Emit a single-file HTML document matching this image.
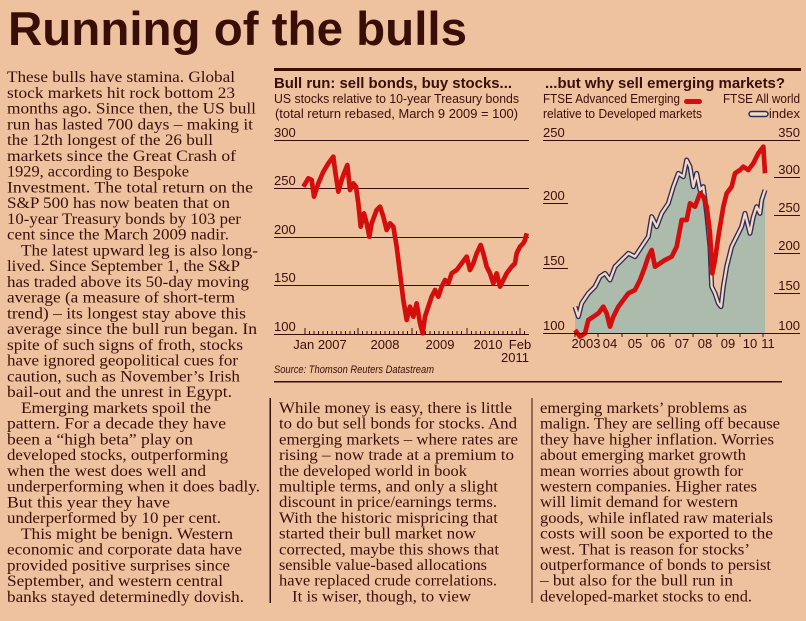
<!DOCTYPE html>
<html><head><meta charset="utf-8"><style>
html,body{margin:0;padding:0;background:#eec29e;}
svg{display:block}
.b{font-family:"Liberation Serif",serif;font-size:15.5px;fill:#3a0e08}
.s{font-family:"Liberation Sans",sans-serif;fill:#3a0e08}
</style></head><body>
<svg width="806" height="621" viewBox="0 0 806 621" xmlns="http://www.w3.org/2000/svg">
<rect width="806" height="621" fill="#eec29e"/>
<text class="s" x="8" y="45" font-size="47" font-weight="bold" textLength="459" lengthAdjust="spacingAndGlyphs">Running of the bulls</text>

<g class="b">
<text x="7" y="82" textLength="228" lengthAdjust="spacingAndGlyphs">These bulls have stamina. Global</text>
<text x="7" y="97.75" textLength="228" lengthAdjust="spacingAndGlyphs">stock markets hit rock bottom 23</text>
<text x="7" y="113.5" textLength="249" lengthAdjust="spacingAndGlyphs">months ago. Since then, the US bull</text>
<text x="7" y="129.25" textLength="246" lengthAdjust="spacingAndGlyphs">run has lasted 700 days – making it</text>
<text x="7" y="145" textLength="206" lengthAdjust="spacingAndGlyphs">the 12th longest of the 26 bull</text>
<text x="7" y="160.75" textLength="229" lengthAdjust="spacingAndGlyphs">markets since the Great Crash of</text>
<text x="7" y="176.5" textLength="182" lengthAdjust="spacingAndGlyphs">1929, according to Bespoke</text>
<text x="7" y="192.25" textLength="246" lengthAdjust="spacingAndGlyphs">Investment. The total return on the</text>
<text x="7" y="208" textLength="223" lengthAdjust="spacingAndGlyphs">S&amp;P 500 has now beaten that on</text>
<text x="7" y="223.75" textLength="234" lengthAdjust="spacingAndGlyphs">10-year Treasury bonds by 103 per</text>
<text x="7" y="239.5" textLength="222" lengthAdjust="spacingAndGlyphs">cent since the March 2009 nadir.</text>
<text x="21" y="255.25" textLength="237" lengthAdjust="spacingAndGlyphs">The latest upward leg is also long-</text>
<text x="7" y="271" textLength="233" lengthAdjust="spacingAndGlyphs">lived. Since September 1, the S&amp;P</text>
<text x="7" y="286.75" textLength="242" lengthAdjust="spacingAndGlyphs">has traded above its 50-day moving</text>
<text x="7" y="302.5" textLength="228" lengthAdjust="spacingAndGlyphs">average (a measure of short-term</text>
<text x="7" y="318.25" textLength="239" lengthAdjust="spacingAndGlyphs">trend) – its longest stay above this</text>
<text x="7" y="334" textLength="250" lengthAdjust="spacingAndGlyphs">average since the bull run began. In</text>
<text x="7" y="349.75" textLength="236" lengthAdjust="spacingAndGlyphs">spite of such signs of froth, stocks</text>
<text x="7" y="365.5" textLength="231" lengthAdjust="spacingAndGlyphs">have ignored geopolitical cues for</text>
<text x="7" y="381.25" textLength="233" lengthAdjust="spacingAndGlyphs">caution, such as November’s Irish</text>
<text x="7" y="397" textLength="225" lengthAdjust="spacingAndGlyphs">bail-out and the unrest in Egypt.</text>
<text x="21" y="412.75" textLength="190" lengthAdjust="spacingAndGlyphs">Emerging markets spoil the</text>
<text x="7" y="428.5" textLength="219" lengthAdjust="spacingAndGlyphs">pattern. For a decade they have</text>
<text x="7" y="444.25" textLength="186" lengthAdjust="spacingAndGlyphs">been a “high beta” play on</text>
<text x="7" y="460" textLength="221" lengthAdjust="spacingAndGlyphs">developed stocks, outperforming</text>
<text x="7" y="475.75" textLength="199" lengthAdjust="spacingAndGlyphs">when the west does well and</text>
<text x="7" y="491.5" textLength="253" lengthAdjust="spacingAndGlyphs">underperforming when it does badly.</text>
<text x="7" y="507.25" textLength="163" lengthAdjust="spacingAndGlyphs">But this year they have</text>
<text x="7" y="523" textLength="214" lengthAdjust="spacingAndGlyphs">underperformed by 10 per cent.</text>
<text x="21" y="538.75" textLength="212" lengthAdjust="spacingAndGlyphs">This might be benign. Western</text>
<text x="7" y="554.5" textLength="235" lengthAdjust="spacingAndGlyphs">economic and corporate data have</text>
<text x="7" y="570.25" textLength="223" lengthAdjust="spacingAndGlyphs">provided positive surprises since</text>
<text x="7" y="586" textLength="216" lengthAdjust="spacingAndGlyphs">September, and western central</text>
<text x="7" y="601.75" textLength="237" lengthAdjust="spacingAndGlyphs">banks stayed determinedly dovish.</text>
</g>

<!-- bottom columns -->
<rect x="274" y="381" width="508" height="1.5" fill="#3a0e08"/>
<rect x="269.5" y="398" width="1.5" height="205" fill="#3a0e08"/>
<rect x="531.5" y="398" width="1" height="205" fill="#3a0e08"/>
<g class="b">
<text x="279" y="413" textLength="233" lengthAdjust="spacingAndGlyphs">While money is easy, there is little</text>
<text x="279" y="428.7" textLength="238" lengthAdjust="spacingAndGlyphs">to do but sell bonds for stocks. And</text>
<text x="279" y="444.4" textLength="239" lengthAdjust="spacingAndGlyphs">emerging markets – where rates are</text>
<text x="279" y="460.1" textLength="235" lengthAdjust="spacingAndGlyphs">rising – now trade at a premium to</text>
<text x="279" y="475.8" textLength="188" lengthAdjust="spacingAndGlyphs">the developed world in book</text>
<text x="279" y="491.5" textLength="219" lengthAdjust="spacingAndGlyphs">multiple terms, and only a slight</text>
<text x="279" y="507.2" textLength="218" lengthAdjust="spacingAndGlyphs">discount in price/earnings terms.</text>
<text x="279" y="522.9" textLength="219" lengthAdjust="spacingAndGlyphs">With the historic mispricing that</text>
<text x="279" y="538.6" textLength="197" lengthAdjust="spacingAndGlyphs">started their bull market now</text>
<text x="279" y="554.3" textLength="220" lengthAdjust="spacingAndGlyphs">corrected, maybe this shows that</text>
<text x="279" y="570" textLength="208" lengthAdjust="spacingAndGlyphs">sensible value-based allocations</text>
<text x="279" y="585.7" textLength="218" lengthAdjust="spacingAndGlyphs">have replaced crude correlations.</text>
<text x="292" y="601.4" textLength="179" lengthAdjust="spacingAndGlyphs">It is wiser, though, to view</text>

<text x="540" y="413" textLength="207" lengthAdjust="spacingAndGlyphs">emerging markets’ problems as</text>
<text x="540" y="428.7" textLength="240" lengthAdjust="spacingAndGlyphs">malign. They are selling off because</text>
<text x="540" y="444.4" textLength="234" lengthAdjust="spacingAndGlyphs">they have higher inflation. Worries</text>
<text x="540" y="460.1" textLength="206" lengthAdjust="spacingAndGlyphs">about emerging market growth</text>
<text x="540" y="475.8" textLength="203" lengthAdjust="spacingAndGlyphs">mean worries about growth for</text>
<text x="540" y="491.5" textLength="217" lengthAdjust="spacingAndGlyphs">western companies. Higher rates</text>
<text x="540" y="507.2" textLength="198" lengthAdjust="spacingAndGlyphs">will limit demand for western</text>
<text x="540" y="522.9" textLength="233" lengthAdjust="spacingAndGlyphs">goods, while inflated raw materials</text>
<text x="540" y="538.6" textLength="233" lengthAdjust="spacingAndGlyphs">costs will soon be exported to the</text>
<text x="540" y="554.3" textLength="210" lengthAdjust="spacingAndGlyphs">west. That is reason for stocks’</text>
<text x="540" y="570" textLength="231" lengthAdjust="spacingAndGlyphs">outperformance of bonds to persist</text>
<text x="540" y="585.7" textLength="193" lengthAdjust="spacingAndGlyphs">– but also for the bull run in</text>
<text x="540" y="601.4" textLength="212" lengthAdjust="spacingAndGlyphs">developed-market stocks to end.</text>
</g>

<!-- top bar -->
<rect x="274" y="68" width="527" height="3" fill="#3a0e08"/>

<!-- LEFT CHART -->
<g class="s">
<text x="274" y="88" font-size="15" font-weight="bold" textLength="238" lengthAdjust="spacingAndGlyphs">Bull run: sell bonds, buy stocks...</text>
<text x="274" y="103" font-size="13" textLength="245" lengthAdjust="spacingAndGlyphs">US stocks relative to 10-year Treasury bonds</text>
<text x="275" y="118" font-size="13" textLength="243" lengthAdjust="spacingAndGlyphs">(total return rebased, March 9 2009 = 100)</text>
<g font-size="13">
<text x="274" y="137">300</text><text x="274" y="185">250</text><text x="274" y="234">200</text><text x="274" y="282">150</text><text x="274" y="331">100</text>
<text x="320" y="349" text-anchor="middle">Jan 2007</text>
<text x="385" y="349" text-anchor="middle">2008</text>
<text x="440" y="349" text-anchor="middle">2009</text>
<text x="488" y="349" text-anchor="middle">2010</text>
<text x="520" y="349" text-anchor="middle">Feb</text>
<text x="529" y="362" text-anchor="end">2011</text>
</g>
<text x="274" y="373" font-size="11" font-style="italic" textLength="160" lengthAdjust="spacingAndGlyphs">Source: Thomson Reuters Datastream</text>
</g>
<g stroke="#3a0e08" stroke-width="1">
<line x1="274" y1="140.5" x2="529" y2="140.5"/>
<line x1="274" y1="188.5" x2="529" y2="188.5"/>
<line x1="274" y1="237.5" x2="529" y2="237.5"/>
<line x1="274" y1="285.5" x2="529" y2="285.5"/>
<line x1="274" y1="334.5" x2="529" y2="334.5"/>
</g>
<path stroke="#3a0e08" stroke-width="1" d="M305 334v-6M309.5 334v-3M314 334v-3M318.5 334v-3M323 334v-3M327.5 334v-3M332 334v-3M336.5 334v-3M341 334v-3M345.5 334v-3M350 334v-3M354.5 334v-3M358 334v-6M362.5 334v-3M367 334v-3M371.5 334v-3M376 334v-3M380.5 334v-3M385 334v-3M389.5 334v-3M394 334v-3M398.5 334v-3M403 334v-3M407.5 334v-3M412 334v-6M416.5 334v-3M421 334v-3M425.5 334v-3M430 334v-3M434.5 334v-3M439 334v-3M443.5 334v-3M448 334v-3M452.5 334v-3M457 334v-3M461.5 334v-3M467 334v-6M471.5 334v-3M476 334v-3M480.5 334v-3M485 334v-3M489.5 334v-3M494 334v-3M498.5 334v-3M503 334v-3M507.5 334v-3M512 334v-3M516.5 334v-3M520 334v-6M524.5 334v-3"/>
<g transform="translate(270,60) scale(0.33333)">
<polyline fill="none" stroke="#d40d0d" stroke-width="14" stroke-linejoin="round" points="100,380 115,355 125,360 132,410 145,370 160,335 175,310 190,290 195,330 205,395 215,360 222,340 232,315 240,390 250,370 258,380 265,430 272,500 282,460 290,490 298,530 305,490 320,450 330,440 340,470 350,510 360,490 370,500 380,560 390,640 400,720 410,780 420,740 430,770 440,730 450,790 458,820 465,770 475,740 485,710 495,690 505,710 515,680 525,660 535,670 545,640 560,630 575,610 590,590 600,630 610,610 620,580 632,555 640,580 650,620 660,640 670,670 680,640 690,680 700,660 710,640 725,620 735,610 740,580 750,560 760,550 765,540 770,520"/>
</g>

<!-- RIGHT CHART -->
<g class="s">
<text x="545" y="88" font-size="15" font-weight="bold" textLength="240" lengthAdjust="spacingAndGlyphs">...but why sell emerging markets?</text>
<text x="543" y="103" font-size="13" textLength="137" lengthAdjust="spacingAndGlyphs">FTSE Advanced Emerging</text>
<text x="543" y="118" font-size="13" textLength="159" lengthAdjust="spacingAndGlyphs">relative to Developed markets</text>
<text x="800" y="103" font-size="13" text-anchor="end" textLength="77" lengthAdjust="spacingAndGlyphs">FTSE All world</text>
<text x="800" y="118" font-size="13" text-anchor="end">index</text>
<g font-size="13">
<text x="543" y="137">250</text><text x="543" y="200">200</text><text x="543" y="265">150</text><text x="543" y="330">100</text>
<text x="800" y="137" text-anchor="end">350</text><text x="800" y="174" text-anchor="end">300</text><text x="800" y="212" text-anchor="end">250</text><text x="800" y="250" text-anchor="end">200</text><text x="800" y="290" text-anchor="end">150</text><text x="800" y="330" text-anchor="end">100</text>
<text x="586" y="348" text-anchor="middle">2003</text>
<text x="610" y="348" text-anchor="middle">04</text>
<text x="635" y="348" text-anchor="middle">05</text>
<text x="658" y="348" text-anchor="middle">06</text>
<text x="682" y="348" text-anchor="middle">07</text>
<text x="705" y="348" text-anchor="middle">08</text>
<text x="728" y="348" text-anchor="middle">09</text>
<text x="750" y="348" text-anchor="middle">10</text>
<text x="768" y="348" text-anchor="middle">11</text>
</g>
</g>
<rect x="684" y="99" width="18" height="5" rx="2.5" fill="#d40d0d"/>
<rect x="749" y="111.5" width="19" height="5" rx="2.5" fill="#f4d8c0" stroke="#2c2c5c" stroke-width="1.5"/>
<g transform="translate(535,60) scale(0.33333)">
<polygon fill="#adbbac" points="120,740 130,770 140,730 160,700 180,680 195,650 210,640 225,660 240,620 260,600 280,580 300,590 320,560 340,530 350,470 365,500 380,460 400,430 415,380 430,340 445,350 455,300 465,320 475,380 485,340 495,390 505,380 515,460 525,560 530,680 540,700 550,730 558,740 565,680 575,620 590,560 605,530 620,500 630,460 645,520 655,470 665,440 675,460 680,420 690,390 690,820 120,820"/>
<polyline fill="none" stroke="#2c2c5c" stroke-width="15" stroke-linejoin="round" points="120,740 130,770 140,730 160,700 180,680 195,650 210,640 225,660 240,620 260,600 280,580 300,590 320,560 340,530 350,470 365,500 380,460 400,430 415,380 430,340 445,350 455,300 465,320 475,380 485,340 495,390 505,380 515,460 525,560 530,680 540,700 550,730 558,740 565,680 575,620 590,560 605,530 620,500 630,460 645,520 655,470 665,440 675,460 680,420 690,390"/>
<polyline fill="none" stroke="#f4d8c0" stroke-width="7" stroke-linejoin="round" points="120,740 130,770 140,730 160,700 180,680 195,650 210,640 225,660 240,620 260,600 280,580 300,590 320,560 340,530 350,470 365,500 380,460 400,430 415,380 430,340 445,350 455,300 465,320 475,380 485,340 495,390 505,380 515,460 525,560 530,680 540,700 550,730 558,740 565,680 575,620 590,560 605,530 620,500 630,460 645,520 655,470 665,440 675,460 680,420 690,390"/>
<polyline fill="none" stroke="#d40d0d" stroke-width="14" stroke-linejoin="round" points="120,810 135,830 150,820 160,780 175,770 190,760 205,740 215,760 225,800 235,770 250,740 265,720 280,700 300,690 315,660 330,620 340,590 350,570 360,620 375,610 390,600 410,590 425,560 440,480 455,480 465,430 480,440 495,400 505,410 515,440 525,520 532,640 540,600 550,530 565,440 575,400 590,380 600,340 615,330 625,320 640,330 655,310 670,280 685,260 690,340"/>
</g>
<g stroke="#3a0e08" stroke-width="1">
<line x1="543" y1="140.5" x2="800" y2="140.5"/>
<line x1="543" y1="333.5" x2="800" y2="333.5"/>
<line x1="543" y1="203.5" x2="568" y2="203.5"/>
<line x1="543" y1="268.5" x2="568" y2="268.5"/>
<line x1="774" y1="177.5" x2="800" y2="177.5"/>
<line x1="774" y1="215.5" x2="800" y2="215.5"/>
<line x1="774" y1="253.5" x2="800" y2="253.5"/>
<line x1="774" y1="293.5" x2="800" y2="293.5"/>
</g>
<path stroke="#3a0e08" stroke-width="1" d="M575 333v4M598 333v4M622 333v4M647 333v4M670 333v4M693 333v4M717 333v4M740 333v4M763 333v4"/>
</svg>
</body></html>
